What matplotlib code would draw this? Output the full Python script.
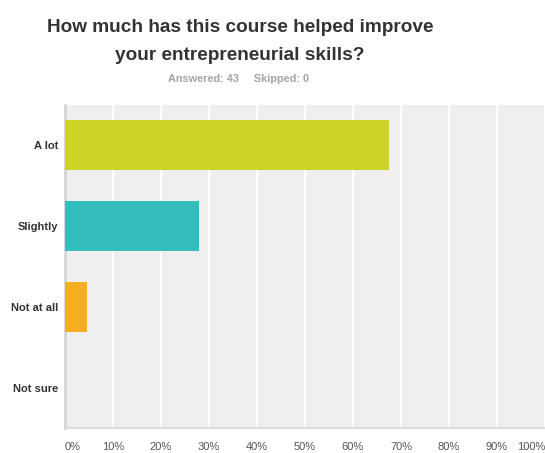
import matplotlib.pyplot as plt
import numpy as np

plt.rcParams['font.family'] = ['Liberation Sans', 'DejaVu Sans']

# survey data
categories = ["A lot", "Slightly", "Not at all", "Not sure"]
percent = [67.44, 27.91, 4.65, 0.0]
colors = ["#cdd427", "#33bdbd", "#f6ae21", "#9f9f9f"]
ticks = [0, 10, 20, 30, 40, 50, 60, 70, 80, 90, 100]
tick_labels = [f"{t}%" for t in ticks]

W, H = 545, 453
fig = plt.figure(figsize=(W / 100, H / 100), dpi=100)

# plot area in pixels: left 65, right 545, top 105, bottom 428
ax = fig.add_axes([65 / W, 1 - 428 / H, 480 / W, 323 / H])
ax.set_facecolor("#efefef")

y = np.arange(len(categories))
ax.barh(y, percent, height=0.62, color=colors, zorder=3)
ax.set_ylim(len(categories) - 0.5, -0.5)
ax.set_xlim(0, 100)

for t in ticks[1:]:
    ax.axvline(t, color="white", lw=1.6, zorder=1)

for s in ["top", "right"]:
    ax.spines[s].set_visible(False)
ax.spines["left"].set_color("#d6d6d6")
ax.spines["left"].set_linewidth(2)
ax.spines["bottom"].set_color("#dcdcdc")
ax.spines["bottom"].set_linewidth(1.5)

ax.set_yticks(y)
ax.set_yticklabels(categories, fontsize=8, fontweight="bold", color="#333333")
ax.set_xticks(ticks)
ax.set_xticklabels(tick_labels, fontsize=8, color="#555555")
ax.tick_params(axis="both", length=0)
ax.tick_params(axis="x", pad=10)
ax.tick_params(axis="y", pad=5)

# first and last labels sit inside the plot width
xl = ax.get_xticklabels()
xl[0].set_horizontalalignment("left")
xl[-1].set_horizontalalignment("right")

fig.text(240 / W, 1 - 27 / H, "How much has this course helped improve",
         ha="center", va="center", fontsize=13.7, fontweight="bold", color="#333333")
fig.text(240 / W, 1 - 55 / H, "your entrepreneurial skills?",
         ha="center", va="center", fontsize=13.7, fontweight="bold", color="#333333")
fig.text(239 / W, 1 - 79 / H, "Answered: 43     Skipped: 0",
         ha="center", va="center", fontsize=7.8, fontweight="bold", color="#a3a3a3")

fig.savefig("out.png", dpi=100)
